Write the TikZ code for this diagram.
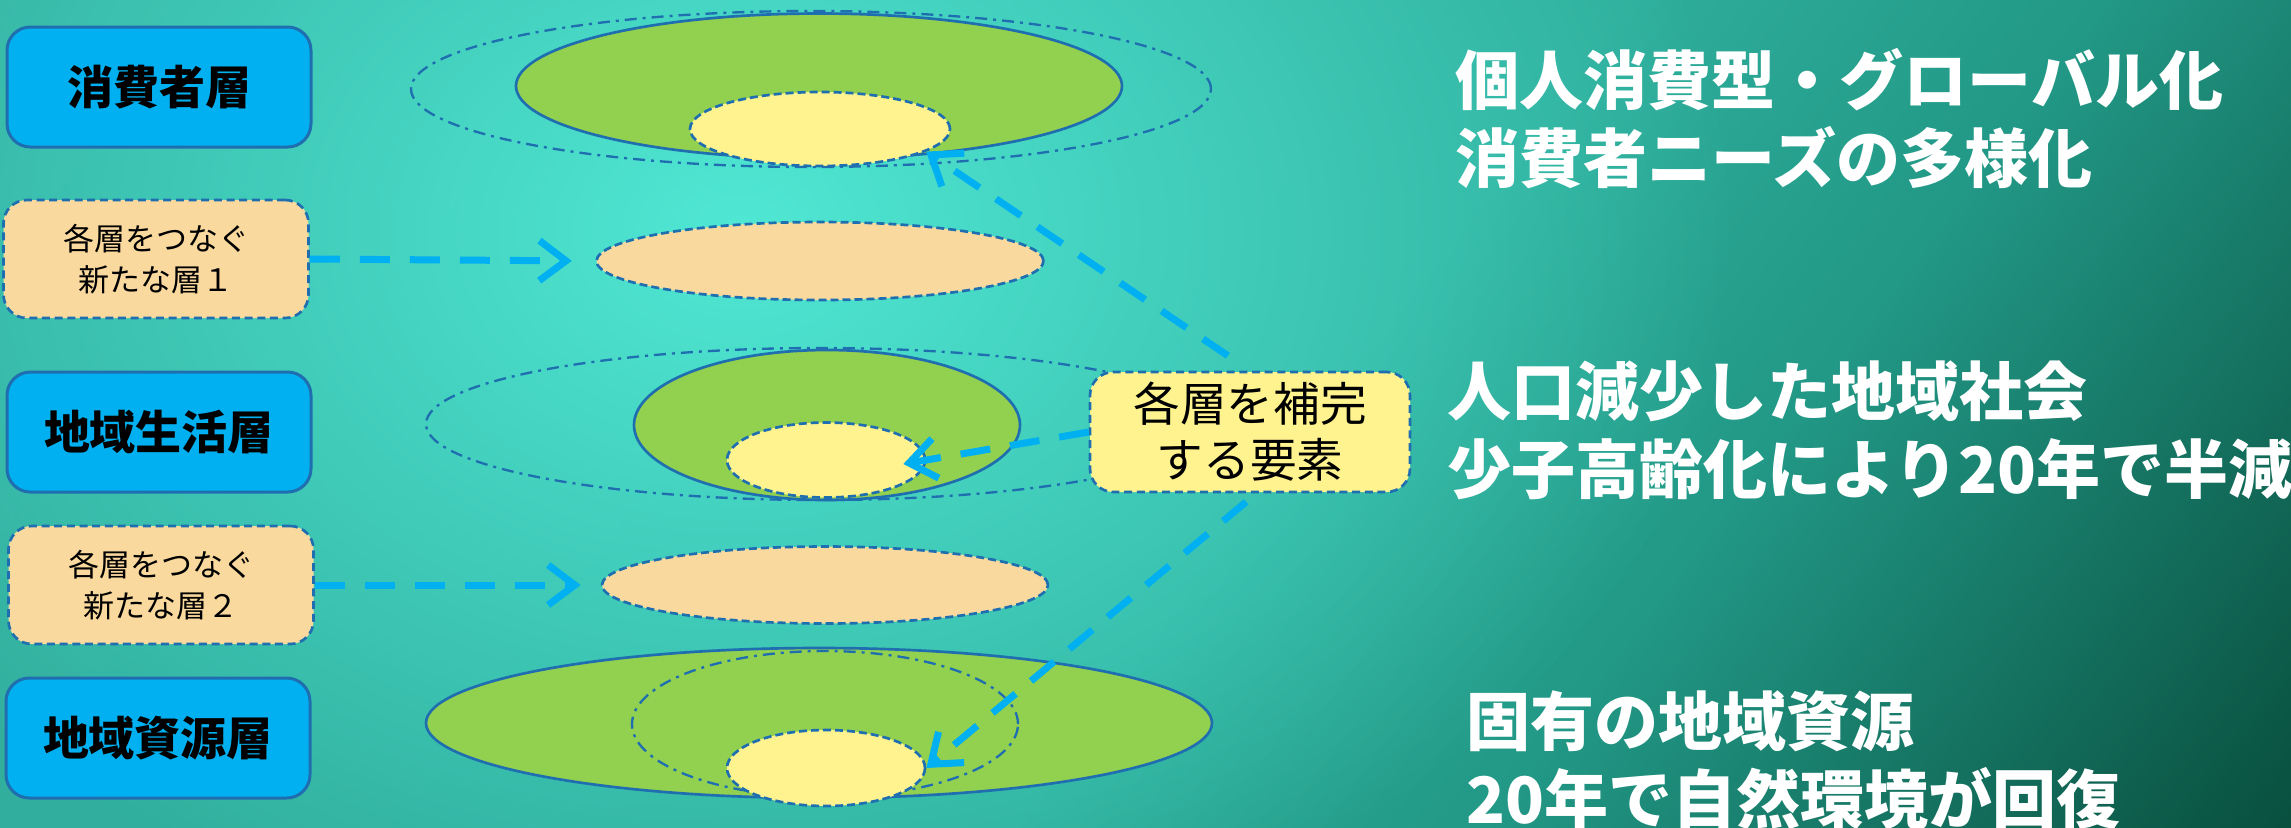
\documentclass[tikz,border=0pt]{standalone}
\usepackage{fontspec}
\newfontfamily\jp{Noto Sans CJK JP}
\usetikzlibrary{shapes.geometric,arrows.meta,fadings}
\definecolor{bgA}{HTML}{33AE9E}
\definecolor{bgB}{HTML}{2FAE9C}
\definecolor{bgC}{HTML}{229886}
\definecolor{bgD}{HTML}{09503F}
\definecolor{glowc}{HTML}{55F2DE}
\definecolor{boxblue}{HTML}{00B0F0}
\definecolor{boxline}{HTML}{1F6FB0}
\definecolor{peach}{HTML}{FAD99E}
\definecolor{lgreen}{HTML}{92D050}
\definecolor{lyellow}{HTML}{FFF38F}
\definecolor{arrowblue}{HTML}{00B0F0}
\pgfdeclarehorizontalshading{bgsh}{100bp}{color(0bp)=(bgA); color(27.6bp)=(bgA); color(52.6bp)=(bgB); color(60bp)=(bgC); color(72.2bp)=(bgD); color(100bp)=(bgD)}
\tikzfading[name=glowfade, inner color=transparent!15, outer color=transparent!100]
\begin{document}
\begin{tikzpicture}[x=0.3pt,y=-0.3pt,
  layerbox/.style={draw=boxline, line width=0.9pt, fill=boxblue, rounded corners=7pt,
    minimum width=91.2pt, minimum height=36pt, inner sep=0pt,
    font=\jp\bfseries\fontsize{13.8}{16}\selectfont},
  linkbox/.style={draw=boxline, line width=0.8pt, dash pattern=on 2.4pt off 1.4pt, fill=peach,
    rounded corners=7pt, minimum width=91.5pt, minimum height=35.4pt, inner sep=0pt,
    align=center, font=\jp\fontsize{9.3}{12.3}\selectfont},
  complbox/.style={draw=boxline, line width=0.8pt, dash pattern=on 2.4pt off 1.4pt, fill=lyellow,
    rounded corners=7pt, minimum width=96pt, minimum height=36pt, inner sep=0pt,
    align=center, font=\jp\fontsize{14}{16.8}\selectfont},
  ell/.style={ellipse, inner sep=0pt, draw=boxline},
  greenell/.style={ell, line width=0.8pt, fill=lgreen},
  yelell/.style={ell, line width=0.8pt, dash pattern=on 2.4pt off 1.2pt, fill=lyellow},
  peachell/.style={ell, line width=0.8pt, dash pattern=on 2.4pt off 1.2pt, fill=peach},
  dotell/.style={ell, line width=0.7pt, dash pattern=on 3.6pt off 1.8pt on 0.9pt off 1.8pt},
  conn/.style={draw=arrowblue, line width=2.1pt, dash pattern=on 9pt off 6pt,
    -{Straight Barb[length=8pt,width=12pt]}},
  sidetext/.style={text=white, anchor=west, align=left, inner sep=0pt,
    font=\jp\bfseries\fontsize{19.2}{23.4}\selectfont}
]
\useasboundingbox (0,0) rectangle (2291,827);
\begin{scope}
  \clip (0,0) rectangle (2291,827);
  \fill[shading=bgsh, transform canvas={rotate around={-37:(1145,413)}}]
    (-155,-887) rectangle (2445,1713);
  \fill[glowc, path fading=glowfade, fit fading=true] (740,230) ellipse [x radius=1000, y radius=760];
\end{scope}

% left boxes
\node[layerbox] (consumer) at (159,87) {消費者層};
\node[linkbox] (link1) at (156,259) {各層をつなぐ\\新たな層１};
\node[layerbox] (life) at (159,432) {地域生活層};
\node[linkbox] (link2) at (161,585) {各層をつなぐ\\新たな層２};
\node[layerbox] (resource) at (158,738) {地域資源層};

% top layer
\node[greenell, minimum width=181.8pt, minimum height=43.5pt] (topgreen) at (819,86) {};
\node[yelell, minimum width=78pt, minimum height=22.2pt] (topyel) at (820,129) {};
\node[dotell, minimum width=240pt, minimum height=46.8pt] (topouter) at (811,89) {};

% link layer 1
\node[peachell, minimum width=134.1pt, minimum height=23.4pt] (peach1) at (820,261) {};

% middle layer
\node[greenell, minimum width=115.8pt, minimum height=45pt] (midgreen) at (827,425) {};
\node[yelell, minimum width=59.4pt, minimum height=22.5pt] (midyel) at (826,460) {};
\node[dotell, minimum width=236.4pt, minimum height=45.6pt] (midouter) at (820,424) {};

% link layer 2
\node[peachell, minimum width=133.8pt, minimum height=23.1pt] (peach2) at (825,585) {};

% bottom layer
\node[greenell, minimum width=235.8pt, minimum height=45pt] (botgreen) at (819,723) {};
\node[dotell, minimum width=115.8pt, minimum height=43.8pt] (botcirc) at (825,724) {};
\node[yelell, minimum width=59.4pt, minimum height=22.8pt] (botyel) at (826,768) {};

% complement box
\node[complbox] (compl) at (1250,432) {各層を補完\\する要素};

% connectors
\draw[conn, shorten >=7pt] (link1.east) -- (peach1.west);
\draw[conn, shorten >=6pt] (link2.east) -- (peach2.west);
\draw[conn, shorten <=8pt] (compl.north) -- (topyel.-12);
\draw[conn, shorten >=-7pt] (compl.west) -- (midyel.east);
\draw[conn, shorten <=4pt] (compl.-84) -- (botyel.east);

% right texts
\node[sidetext] (t1) at (1455,119) {個人消費型・グローバル化\\消費者ニーズの多様化};
\node[sidetext] (t2) at (1447,430) {人口減少した地域社会\\少子高齢化により20年で半減};
\node[sidetext] (t3) at (1466,760) {固有の地域資源\\20年で自然環境が回復};
\end{tikzpicture}
\end{document}
